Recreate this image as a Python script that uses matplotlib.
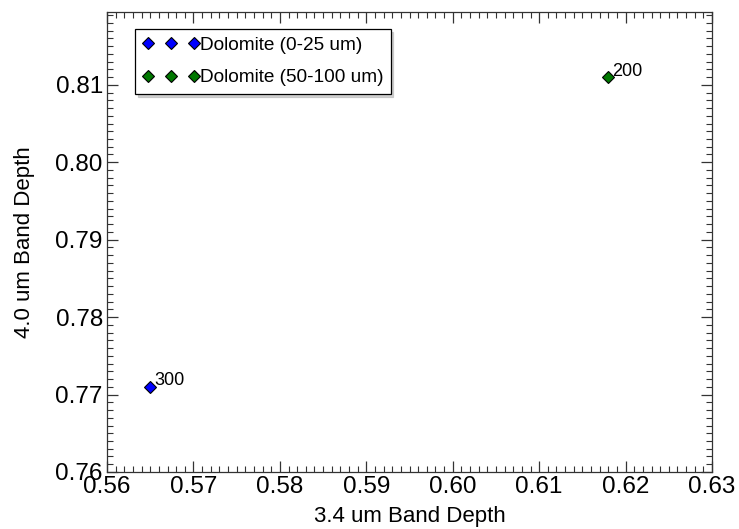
import matplotlib.pyplot as plt
from matplotlib.ticker import MultipleLocator

plt.rcParams['font.family'] = ['Liberation Sans', 'DejaVu Sans']

# band depths per grain size
labels = ["Dolomite (0-25 um)", "Dolomite (50-100 um)"]
colors = ["#0000ff", "#007800"]
band34 = [0.565, 0.618]
band40 = [0.771, 0.811]
temps = ["300", "200"]

fig = plt.figure(figsize=(7.39, 5.29), dpi=100)
ax = fig.add_axes([0.1448, 0.1078, 0.8187, 0.8695])

for x, y, c, lab, t in zip(band34, band40, colors, labels, temps):
    ax.plot([x], [y], linestyle='none', marker='D', markersize=6.5,
            markerfacecolor=c, markeredgecolor='black', markeredgewidth=0.8,
            label=lab)
    ax.annotate(t, (x, y), xytext=(3, 1), textcoords='offset points',
                fontsize=13)

ax.set_xlim(0.56, 0.63)
ax.set_ylim(0.76, 0.8194)
ax.xaxis.set_major_locator(MultipleLocator(0.01))
ax.xaxis.set_minor_locator(MultipleLocator(0.001))
ax.yaxis.set_major_locator(MultipleLocator(0.01))
ax.yaxis.set_minor_locator(MultipleLocator(0.001))
ax.xaxis.set_major_formatter(plt.FormatStrFormatter('%.2f'))
ax.yaxis.set_major_formatter(plt.FormatStrFormatter('%.2f'))

ax.tick_params(which='both', direction='in', top=True, right=True,
               color='#333333', labelsize=17.5)
ax.tick_params(which='major', length=8, width=0.9, pad=3)
ax.tick_params(which='minor', length=4, width=0.8)
for s in ax.spines.values():
    s.set_color('#333333')
    s.set_linewidth(0.9)

ax.set_xlabel("3.4 um Band Depth", fontsize=16, labelpad=6)
ax.set_ylabel("4.0 um Band Depth", fontsize=16, labelpad=15)

leg = ax.legend(loc='upper left', bbox_to_anchor=(0.046, 0.963),
                numpoints=3, handlelength=3.0, handletextpad=0.0,
                borderpad=0.4, borderaxespad=0, labelspacing=0.8,
                fontsize=13.7, fancybox=False,
                shadow={'color': '0.7', 'alpha': 0.6},
                edgecolor='black', framealpha=1)
leg.get_frame().set_linewidth(0.9)

fig.savefig("out.png", dpi=100)
